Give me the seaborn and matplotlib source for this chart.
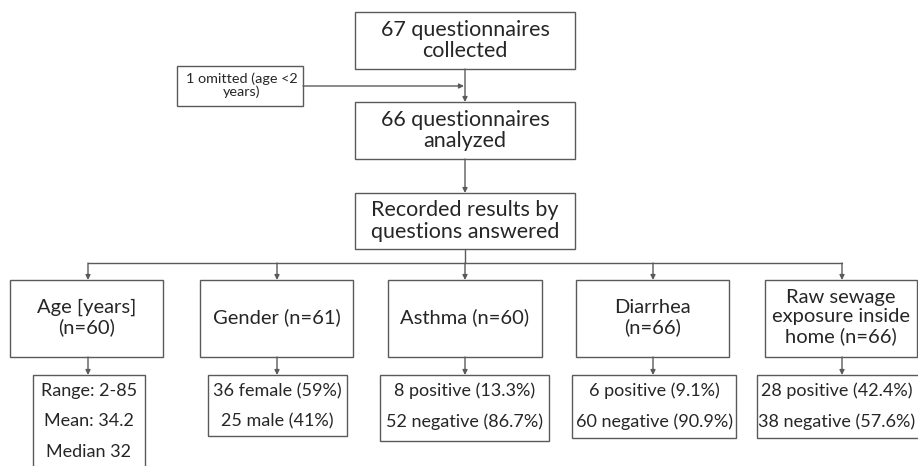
import matplotlib.pyplot as plt
import seaborn as sns
from matplotlib.patches import Rectangle

# flow chart texts
top_steps = ["67 questionnaires\ncollected",
             "66 questionnaires\nanalyzed",
             "Recorded results by\nquestions answered"]
omitted_text = "1 omitted (age <2\nyears)"
questions = ["Age [years]\n(n=60)", "Gender (n=61)", "Asthma (n=60)",
             "Diarrhea\n(n=66)", "Raw sewage\nexposure inside\nhome (n=66)"]
results = [["Range: 2-85", "Mean: 34.2", "Median 32"],
           ["36 female (59%)", "25 male (41%)"],
           ["8 positive (13.3%)", "52 negative (86.7%)"],
           ["6 positive (9.1%)", "60 negative (90.9%)"],
           ["28 positive (42.4%)", "38 negative (57.6%)"]]

# layout in pixels (x0, x1, y0, y1)
top_boxes = [(355, 575, 12, 69), (355, 575, 102, 159), (355, 575, 193, 249)]
omit_box = (177, 303, 66, 106)
q_boxes = [(10, 163, 280, 357), (200, 353, 280, 357), (388, 542, 280, 357),
           (576, 729, 280, 357), (765, 917, 280, 357)]
r_boxes = [(33, 145, 375, 480), (208, 347, 375, 436), (380, 549, 375, 441),
           (572, 736, 375, 438), (757, 928, 375, 438)]
q_centers = [88, 277, 465, 653, 842]
r_text_x = [89, 277, 465, 654, 837]
branch_y = 263

sns.set_style("white")
plt.rcParams['font.family'] = ['Lato', 'DejaVu Sans']

line_col = "#5a5a5a"
text_col = "#262626"

fig = plt.figure(figsize=(9.18, 4.66), dpi=100)
ax = fig.add_axes([0, 0, 1, 1])
ax.set_xlim(0, 918)
ax.set_ylim(466, 0)
ax.axis("off")


def box(b):
    x0, x1, y0, y1 = b
    ax.add_patch(Rectangle((x0, y0), x1 - x0, y1 - y0, fill=False,
                           edgecolor=line_col, lw=1.0))


def arrow(x0, y0, x1, y1):
    ax.annotate("", xy=(x1, y1), xytext=(x0, y0),
                arrowprops=dict(arrowstyle="-|>", color=line_col, lw=1.0,
                                mutation_scale=7, shrinkA=0, shrinkB=0))


for b, t in zip(top_boxes, top_steps):
    box(b)
    ax.text((b[0] + b[1]) / 2, (b[2] + b[3]) / 2, t, ha="center", va="center",
            fontsize=15.5, color=text_col, linespacing=1.1)

cx = 465
arrow(cx, top_boxes[0][3], cx, top_boxes[1][2])
arrow(cx, top_boxes[1][3], cx, top_boxes[2][2])

box(omit_box)
ax.text((omit_box[0] + omit_box[1]) / 2 + 2, (omit_box[2] + omit_box[3]) / 2 - 1,
        omitted_text, ha="center", va="center", fontsize=10.4, color=text_col,
        linespacing=1.05)
arrow(omit_box[1], 86, cx - 1, 86)

# branch line
ax.plot([cx, cx], [top_boxes[2][3], branch_y], color=line_col, lw=1.0)
ax.plot([q_centers[0], q_centers[-1]], [branch_y, branch_y], color=line_col, lw=1.0)

for qc, qb, q, rb, rx, res in zip(q_centers, q_boxes, questions, r_boxes,
                                  r_text_x, results):
    arrow(qc, branch_y, qc, qb[2])
    box(qb)
    ax.text((qb[0] + qb[1]) / 2, (qb[2] + qb[3]) / 2 - 1, q, ha="center",
            va="center", fontsize=14.5, color=text_col, linespacing=1.15)
    arrow(qc, qb[3], qc, rb[2])
    box(rb)
    for i, line in enumerate(res):
        ax.text(rx, rb[2] + 16 + 30.5 * i, line, ha="center", va="center",
                fontsize=13, color=text_col)

fig.savefig("out.png", dpi=100)
